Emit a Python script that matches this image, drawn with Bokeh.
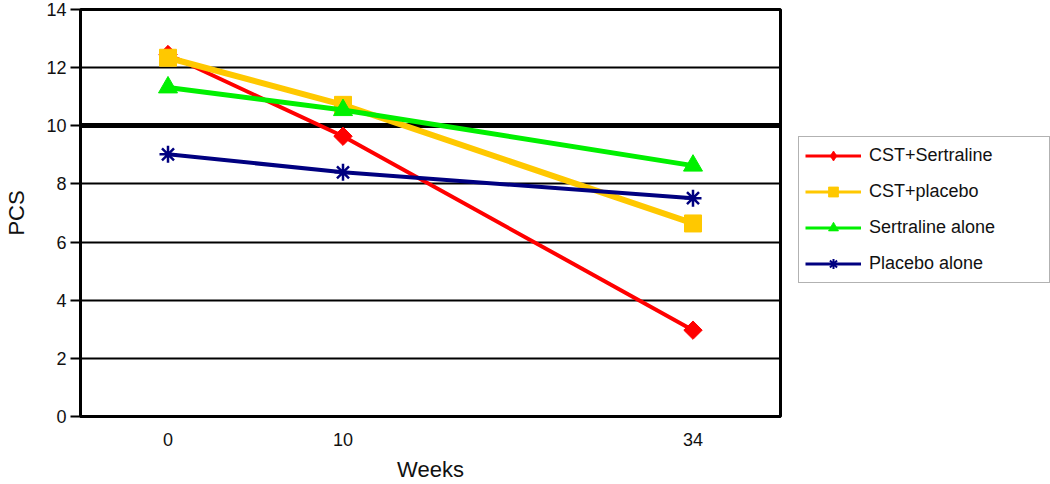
import math
from bokeh.plotting import figure
from bokeh.layouts import row
from bokeh.models import FactorRange, Range1d, Legend, LegendItem, FixedTicker, Grid
from bokeh.embed import file_html
from bokeh.resources import INLINE

# ---- data ----
week_slots = ["0", "10", " ", "34"]          # category slots on the x axis (third slot blank)
weeks = ["0", "10", "34"]
cst_sertraline = [12.45, 9.64, 2.97]
cst_placebo = [12.34, 10.72, 6.64]
sertraline_alone = [11.32, 10.54, 8.63]
placebo_alone = [9.02, 8.40, 7.51]
y_ticks = [0, 2, 4, 6, 8, 10, 12, 14]
series_names = ["CST+Sertraline", "CST+placebo", "Sertraline alone", "Placebo alone"]

FONT = "Liberation Sans"
TXT = "#111111"

p = figure(width=782, height=484,
           x_range=FactorRange(factors=week_slots, range_padding=0),
           y_range=Range1d(0, 14),
           output_backend="svg", toolbar_location=None,
           min_border_left=80, min_border_right=2,
           min_border_top=9, min_border_bottom=62)

p.background_fill_color = "white"
p.border_fill_color = "white"
p.outline_line_color = "black"
p.outline_line_width = 3

# grids
p.xgrid.visible = False
p.ygrid.ticker = FixedTicker(ticks=y_ticks)
p.ygrid.grid_line_color = "black"
p.ygrid.grid_line_width = 1.8
p.ygrid.grid_line_alpha = 1
thick = Grid(dimension=1, ticker=FixedTicker(ticks=[10]),
             grid_line_color="black", grid_line_width=5)
p.add_layout(thick)

# y axis
p.yaxis.ticker = FixedTicker(ticks=y_ticks)
p.yaxis.axis_label = "PCS"
p.yaxis.axis_label_text_font = FONT
p.yaxis.axis_label_text_font_size = "22px"
p.yaxis.axis_label_text_font_style = "normal"
p.yaxis.axis_label_text_color = TXT
p.yaxis.axis_label_standoff = 14
p.yaxis.major_label_text_font = FONT
p.yaxis.major_label_text_font_size = "18px"
p.yaxis.major_label_text_color = TXT
p.yaxis.major_label_standoff = 4
p.yaxis.major_tick_out = 10
p.yaxis.major_tick_in = 0
p.yaxis.major_tick_line_width = 2
p.yaxis.major_tick_line_color = "black"
p.yaxis.minor_tick_line_color = None
p.yaxis.axis_line_color = "black"
p.yaxis.axis_line_width = 3

# x axis
p.xaxis.axis_label = "Weeks"
p.xaxis.axis_label_text_font = FONT
p.xaxis.axis_label_text_font_size = "22px"
p.xaxis.axis_label_text_font_style = "normal"
p.xaxis.axis_label_text_color = TXT
p.xaxis.axis_label_standoff = 4
p.xaxis.major_label_text_font = FONT
p.xaxis.major_label_text_font_size = "18px"
p.xaxis.major_label_text_color = TXT
p.xaxis.major_label_standoff = 13
p.xaxis.major_tick_out = 0
p.xaxis.major_tick_in = 0
p.xaxis.major_tick_line_color = None
p.xaxis.minor_tick_line_color = None
p.xaxis.axis_line_color = "black"
p.xaxis.axis_line_width = 3

styles = [
    # color, line width, marker, size, angle, marker line width, legend marker
    ("#FF0000", 4, "square", 13, math.pi / 4, 1, "diamond"),
    ("#FFC800", 6, "square", 17, 0, 1, "square"),
    ("#00F000", 5, "triangle", 19, 0, 1, "triangle"),
    ("#000080", 4, "asterisk", 17, 0, 2.5, "asterisk"),
]
values = [cst_sertraline, cst_placebo, sertraline_alone, placebo_alone]

for vals, (color, lw, marker, size, ang, mlw, _) in zip(values, styles):
    p.line(weeks, vals, line_color=color, line_width=lw)
    p.scatter(weeks, vals, marker=marker, size=size, angle=ang,
              fill_color=color, line_color=color, line_width=mlw)

# ---- legend panel (separate canvas to the right of the plot) ----
# same series drawn again, but with a y range that keeps them out of view,
# so only the legend (with smaller legend-style glyphs) is visible
lg = figure(width=268, height=484,
            x_range=FactorRange(factors=week_slots, range_padding=0),
            y_range=Range1d(100, 101),
            output_backend="svg", toolbar_location=None,
            min_border_left=0, min_border_right=0, min_border_top=0, min_border_bottom=0)
lg.axis.visible = False
lg.grid.visible = False
lg.outline_line_color = None
lg.background_fill_color = "white"
lg.border_fill_color = "white"

items = []
for name, vals, (color, lw, marker, size, ang, mlw, lmarker) in zip(series_names, values, styles):
    lr = lg.line(weeks, vals, line_color=color, line_width=3)
    lsize = 15 if lmarker == "diamond" else size * 0.7
    sr = lg.scatter(weeks, vals, marker=lmarker, size=lsize,
                    fill_color=color, line_color=color, line_width=mlw * 0.8)
    items.append(LegendItem(label=name, renderers=[lr, sr]))

legend = Legend(items=items, location=(16, 133))
legend.label_text_font = FONT
legend.label_text_font_size = "18px"
legend.label_text_color = TXT
legend.border_line_color = "#666666"
legend.border_line_width = 1.5
legend.background_fill_color = "white"
legend.padding = 6
legend.spacing = 11
legend.glyph_width = 56
legend.glyph_height = 25
legend.label_height = 25
legend.label_standoff = 8
legend.label_width = 174
legend.margin = 0
lg.add_layout(legend, "center")

layout = row(p, lg, spacing=0)
open("out.html", "w").write(file_html(layout, INLINE))
